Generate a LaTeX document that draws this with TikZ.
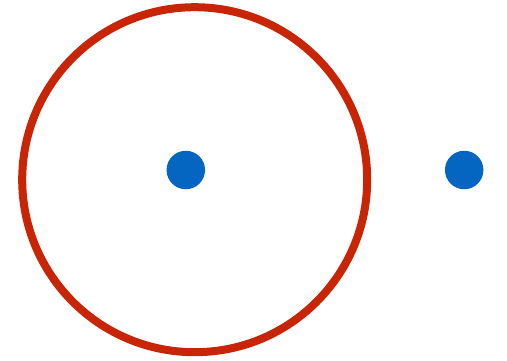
\documentclass[tikz,border=0pt]{standalone}
\definecolor{ringred}{HTML}{C82506}
\definecolor{dotblue}{HTML}{0466C0}
\begin{document}
\begin{tikzpicture}[x=1pt,y=-1pt,
  ring/.style={draw=ringred,line width=8pt,circle,minimum size=345pt,inner sep=0pt},
  dot/.style={fill=dotblue,circle,minimum size=38.5pt,inner sep=0pt}]
\useasboundingbox (0,0) rectangle (507,360);
\node[ring] (r) at (194.7,179.7) {};
\node[dot] (a) at (185.8,170) {};
\node[dot] (b) at (464.2,170) {};
\end{tikzpicture}
\end{document}
